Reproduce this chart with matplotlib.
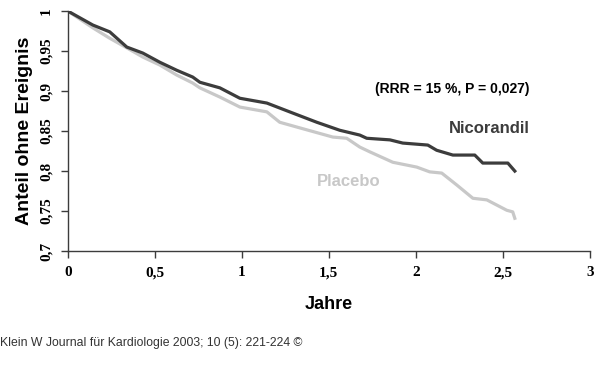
import matplotlib.pyplot as plt

# Kaplan-Meier-Kurven, Werte
nico_t = [0, 0.144, 0.241, 0.339, 0.431, 0.529, 0.626, 0.718, 0.759, 0.874,
          0.989, 1.144, 1.293, 1.431, 1.563, 1.678, 1.718, 1.851, 1.925,
          2.069, 2.12, 2.213, 2.339, 2.385, 2.529, 2.569]
nico_y = [1, 0.9825, 0.974, 0.955, 0.9475, 0.936, 0.926, 0.9175, 0.911,
          0.904, 0.891, 0.885, 0.8725, 0.861, 0.851, 0.845, 0.841, 0.839,
          0.835, 0.8325, 0.826, 0.82, 0.82, 0.81, 0.81, 0.80]

plac_t = [0, 0.144, 0.241, 0.339, 0.431, 0.529, 0.626, 0.718, 0.759, 0.874,
          0.989, 1.144, 1.218, 1.333, 1.523, 1.603, 1.678, 1.736, 1.868,
          2.005, 2.08, 2.149, 2.236, 2.328, 2.408, 2.523, 2.557, 2.569]
plac_y = [1, 0.979, 0.966, 0.954, 0.9425, 0.9325, 0.92, 0.91, 0.904,
          0.8925, 0.88, 0.874, 0.861, 0.854, 0.8425, 0.841, 0.83, 0.824,
          0.811, 0.805, 0.799, 0.7975, 0.7825, 0.766, 0.764, 0.751, 0.749,
          0.741]

x_ticks = [0, 0.5, 1, 1.5, 2, 2.5, 3]
y_ticks = [0.7, 0.75, 0.8, 0.85, 0.9, 0.95, 1]

dark = "#3c3c3c"
light = "#c8c8c8"

fig = plt.figure(figsize=(6, 3.81), dpi=100)
ax = fig.add_axes([0.113, 0.341, 0.870, 0.630])

ax.plot(plac_t, plac_y, color=light, lw=2.3)
ax.plot(nico_t, nico_y, color=dark, lw=2.3)

ax.set_xlim(0, 3)
ax.set_ylim(0.7, 1)
ax.set_xticks(x_ticks)
ax.set_yticks(y_ticks)
ax.set_xticklabels([f"{v:g}".replace(".", ",") for v in x_ticks],
                   family="Liberation Serif", fontweight="bold", fontsize=11)
ax.set_yticklabels([f"{v:g}".replace(".", ",") for v in y_ticks],
                   family="Liberation Serif", fontweight="bold", fontsize=11,
                   rotation=90, va="center")
ax.tick_params(axis="both", direction="out", length=5, width=1,
               color=dark, pad=6)

for side in ["top", "right"]:
    ax.spines[side].set_visible(False)
for side in ["left", "bottom"]:
    ax.spines[side].set_color(dark)
    ax.spines[side].set_linewidth(1)

ax.set_xlabel("Jahre", family="Liberation Sans", fontweight="bold",
              fontsize=13, labelpad=12)
ax.set_ylabel("Anteil ohne Ereignis", family="Liberation Sans",
              fontweight="bold", fontsize=14, labelpad=5)

ax.text(2.207, 0.902, "(RRR = 15 %, P = 0,027)", ha="center", va="center",
        family="Liberation Sans", fontweight="bold", fontsize=10,
        color="black")
ax.text(2.425, 0.853, "Nicorandil", ha="center", va="center",
        family="Liberation Sans", fontweight="bold", fontsize=12, color=dark)
ax.text(1.615, 0.787, "Placebo", ha="center", va="center",
        family="Liberation Sans", fontweight="bold", fontsize=12, color=light)

fig.text(0.0, 1 - 343 / 381, "Klein W Journal für Kardiologie 2003; 10 (5): 221-224 ©",
         ha="left", va="center", family="Liberation Sans", fontsize=8.8,
         color="#333333")

fig.savefig("out.png", dpi=100)
plt.close(fig)
